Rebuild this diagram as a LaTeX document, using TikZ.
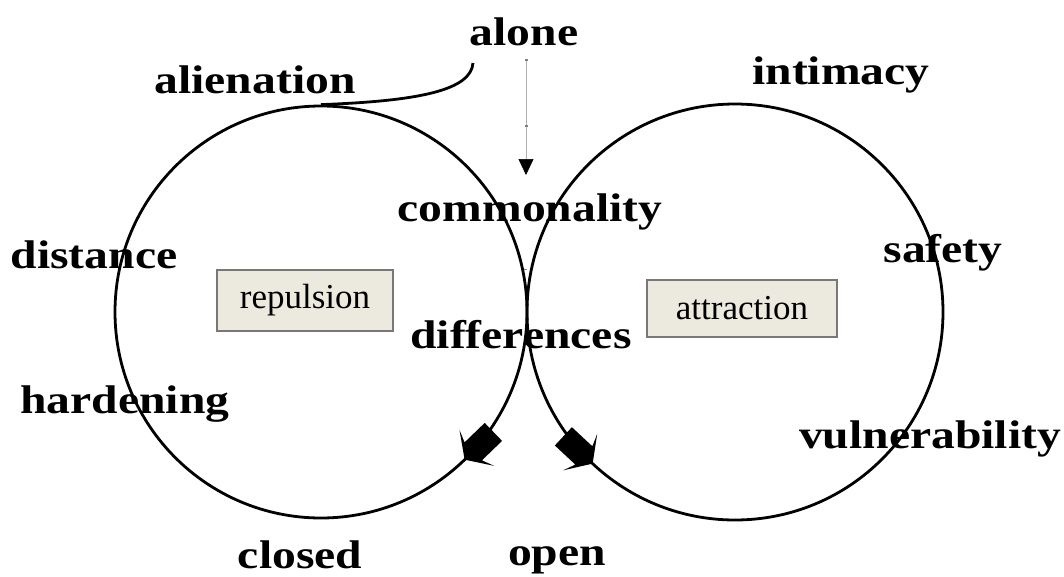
\documentclass[tikz,border=0pt]{standalone}
\usepackage{graphicx}
\usepackage{fontspec}
\setmainfont{Liberation Serif}
\usetikzlibrary{calc,arrows.meta}
\definecolor{boxfill}{RGB}{236,233,223}
\definecolor{boxline}{RGB}{120,120,120}
\newcommand{\wtext}[1]{\scalebox{1.19}[1]{#1}}
\begin{document}
\begin{tikzpicture}[x=1pt,y=-1pt,
  lbl/.style={anchor=base, inner sep=0pt, font=\fontsize{40}{48}\selectfont\bfseries},
  box/.style={draw=boxline, fill=boxfill, line width=1.2pt, inner sep=0pt, font=\fontsize{35}{40}\selectfont},
  ring/.style={draw, circle, inner sep=0pt, line width=2.8pt},
  link/.style={line width=2.8pt},
  guide/.style={draw=gray!60, line width=0.6pt},
  headshape/.style={fill=black}
]
\useasboundingbox (0,0) rectangle (1064,576);

% circles
\node[ring, minimum size=412pt] (lc) at (321,312) {};
\node[ring, minimum size=416pt] (rc) at (735,312) {};

% boxes
\node[box, minimum width=176pt, minimum height=61pt] (rep) at (305,300.5) {repulsion};
\node[box, minimum width=190pt, minimum height=57pt] (att) at (742,308.5) {\raisebox{1.5pt}{attraction}};

% labels
\node[lbl] (alone) at (524,45) {\wtext{alone}};
\node[lbl] (alien) at (255,93) {\wtext{alienation}};
\node[lbl] (intim) at (841,84) {\wtext{intimacy}};
\node[lbl] (comm) at (530,221) {\wtext{commonality}};
\node[lbl] (dist) at (94,268) {\wtext{distance}};
\node[lbl] (safe) at (943,262) {\wtext{safety}};
\node[lbl] (diff) at (521,348) {\wtext{differences}};
\node[lbl] (hard) at (125,413) {\wtext{hardening}};
\node[lbl] (vuln) at (930,448) {\wtext{vulnerability}};
\node[lbl] (closed) at (300,568) {\wtext{closed}};
\node[lbl] (open) at (557,565) {\wtext{open}};

% connector from alone to the left circle
\coordinate (aloneFoot) at (473,63);
\draw[link] (aloneFoot) .. controls (471,90) and (420,101) .. (lc.north);

% thin guide arrow
\coordinate (g1) at (526,60);
\coordinate (g2) at (526,126);
\coordinate (g3) at (526,175);
\draw[guide, -{Triangle[width=15pt,length=16pt]}, arrows={[color=black]}] (g1) -- (g3);
\fill[gray] ($(g1)+(-1.5,-0.8)$) rectangle ($(g1)+(1.5,0.8)$);
\fill[gray] ($(g2)+(-1.5,-0.8)$) rectangle ($(g2)+(1.5,0.8)$);
\coordinate (g4) at (525,269);
\draw[gray, line width=0.8pt] ($(g4)+(-1.5,0)$) -- ($(g4)+(1.5,0)$);

% block arrows on the circles
\coordinate (lt) at ($(lc.center)+(45.8:206)$);
\coordinate (rt) at ($(rc.center)+(133.2:208)$);
\fill[headshape, shift={(lt)}, rotate=224]
  (-40,-12.5) -- (-12,-12.5) -- (-17,-25) -- (0,0) -- (-17,25) -- (-12,12.5) -- (-40,12.5) -- cycle;
\fill[headshape, shift={(rt)}, rotate=-43]
  (-40,-12.5) -- (-12,-12.5) -- (-17,-25) -- (0,0) -- (-17,25) -- (-12,12.5) -- (-40,12.5) -- cycle;
\end{tikzpicture}
\end{document}
